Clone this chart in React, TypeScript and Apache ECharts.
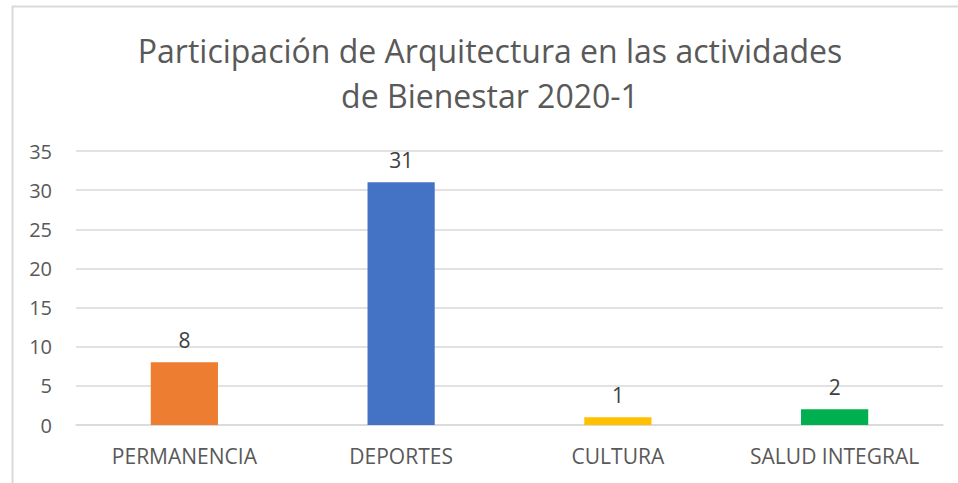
import React, { useEffect, useRef } from "react";
import * as echarts from "echarts";

const categories = ["PERMANENCIA", "DEPORTES", "CULTURA", "SALUD INTEGRAL"];
const values = [8, 31, 1, 2];
const barColors = ["#ED7D31", "#4472C4", "#FFC000", "#00B050"];
const titleLines = ["Participación de Arquitectura en las actividades", "de Bienestar 2020-1"];

export default function App() {
  const ref = useRef<HTMLDivElement>(null);
  useEffect(() => {
    if (!ref.current) return;
    const chart = echarts.init(ref.current, null, { renderer: "svg" });
    const font = "'Open Sans', sans-serif";
    chart.setOption({
      animation: false,
      backgroundColor: "#ffffff",
      title: {
        text: titleLines.join("\n"),
        left: 490,
        textAlign: "center",
        top: 28,
        padding: 0,
        textStyle: {
          fontFamily: font,
          fontSize: 32,
          fontWeight: "normal",
          color: "#595959",
          lineHeight: 45,
        },
      },
      graphic: [
        {
          type: "rect",
          shape: { x: 12.5, y: 6.5, width: 980, height: 520 },
          style: { fill: "none", stroke: "#d9d9d9", lineWidth: 2 },
          silent: true,
        },
      ],
      grid: { left: 76, right: 15, top: 151, bottom: 58 },
      xAxis: {
        type: "category",
        data: categories,
        axisLine: { show: true, lineStyle: { color: "#d9d9d9", width: 1.5 } },
        axisTick: { show: false },
        axisLabel: { color: "#595959", fontSize: 21, fontFamily: font, margin: 20, interval: 0 },
      },
      yAxis: {
        type: "value",
        min: 0,
        max: 35,
        interval: 5,
        axisLine: { show: false },
        axisTick: { show: false },
        splitLine: { lineStyle: { color: "#d9d9d9", width: 1.5 } },
        axisLabel: { color: "#595959", fontSize: 20, fontFamily: font, margin: 24 },
      },
      series: [
        {
          type: "bar",
          barWidth: "31%",
          data: values.map((v, i) => ({ value: v, itemStyle: { color: barColors[i] } })),
          label: {
            show: true,
            position: "top",
            distance: 12,
            color: "#404040",
            fontSize: 21,
            fontFamily: font,
          },
        },
      ],
    });
    return () => chart.dispose();
  }, []);
  return (
    <div
      ref={ref}
      style={{ position: "fixed", left: 0, top: 0, width: 958, height: 483, background: "#fff" }}
    />
  );
}
